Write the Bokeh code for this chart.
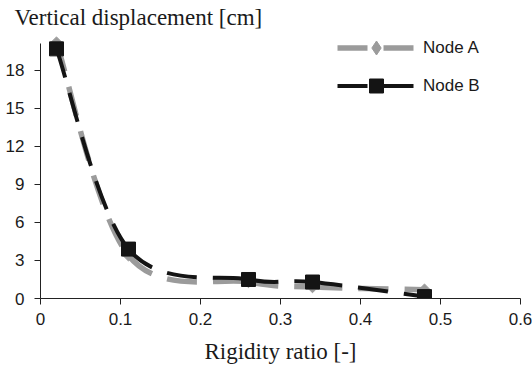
import numpy as np
from bokeh.plotting import figure
from bokeh.models import Range1d, FixedTicker, Legend, LegendItem, ColumnDataSource
from bokeh.embed import file_html
from bokeh.resources import INLINE

# ---- data ----
rigidity_ratio = [0.02, 0.11, 0.26, 0.34, 0.48]
node_a = [20.2, 3.4, 1.3, 0.9, 0.7]
node_b = [19.7, 3.9, 1.5, 1.3, 0.15]
x_ticks = [0, 0.1, 0.2, 0.3, 0.4, 0.5, 0.6]
y_ticks = [0, 3, 6, 9, 12, 15, 18]

GRAY = "#9b9b9b"
BLACK = "#141414"
SANS = "Liberation Sans"
SERIF = "Liberation Serif"


def smooth_segments(xs, ys):
    """Cubic Bezier control points (Catmull-Rom, Excel-like smoothing) from the data points."""
    xs = np.asarray(xs, float)
    ys = np.asarray(ys, float)
    n = len(xs)
    d = dict(x0=[], y0=[], x1=[], y1=[], cx0=[], cy0=[], cx1=[], cy1=[])
    for i in range(n - 1):
        ip = max(i - 1, 0)
        inx = min(i + 2, n - 1)
        d["x0"].append(xs[i]); d["y0"].append(ys[i])
        d["x1"].append(xs[i + 1]); d["y1"].append(ys[i + 1])
        d["cx0"].append(xs[i] + (xs[i + 1] - xs[ip]) / 6)
        d["cy0"].append(ys[i] + (ys[i + 1] - ys[ip]) / 6)
        d["cx1"].append(xs[i + 1] - (xs[inx] - xs[i]) / 6)
        d["cy1"].append(ys[i + 1] - (ys[inx] - ys[i]) / 6)
    return ColumnDataSource(d)


p = figure(width=532, height=368, output_backend="svg", toolbar_location=None,
           x_range=Range1d(0, 0.6), y_range=Range1d(0, 21.15),
           min_border_left=40, min_border_right=12, min_border_top=30, min_border_bottom=70)
p.outline_line_color = None
p.xgrid.visible = False
p.ygrid.visible = False
p.background_fill_color = "white"
p.border_fill_color = "white"

# title acting as y-axis label
p.title.text = "Vertical displacement [cm]"
p.title.text_font = SERIF
p.title.text_font_size = "23px"
p.title.text_font_style = "normal"
p.title.text_color = "#1a1a1a"
p.title.align = "left"
p.title.offset = -26
p.title.standoff = 2

for ax in (p.xaxis[0], p.yaxis[0]):
    ax.axis_line_color = "#222222"
    ax.axis_line_width = 1
    ax.major_tick_line_color = "#222222"
    ax.major_tick_out = 6
    ax.major_tick_in = 0
    ax.minor_tick_line_color = None
    ax.major_label_text_font = SANS
    ax.major_label_text_font_size = "17px"
    ax.major_label_text_color = "#1a1a1a"

p.yaxis.bounds = (0, 20.1)
p.xaxis.ticker = FixedTicker(ticks=x_ticks)
p.yaxis.ticker = FixedTicker(ticks=y_ticks)
p.xaxis.major_label_overrides = {0: "0"}
p.xaxis.major_label_standoff = 8
p.yaxis.major_label_standoff = 10
p.xaxis.axis_label = "Rigidity ratio [-]"
p.xaxis.axis_label_text_font = SERIF
p.xaxis.axis_label_text_font_size = "23px"
p.xaxis.axis_label_text_font_style = "normal"
p.xaxis.axis_label_text_color = "#1a1a1a"
p.xaxis.axis_label_standoff = 11

src_a = smooth_segments(rigidity_ratio, node_a)
src_b = smooth_segments(rigidity_ratio, node_b)

bez_a = p.bezier(x0="x0", y0="y0", x1="x1", y1="y1", cx0="cx0", cy0="cy0", cx1="cx1", cy1="cy1",
                 source=src_a, line_color=GRAY, line_width=5.5, line_dash="30 16")
sc_a = p.scatter(rigidity_ratio, node_a, marker="square", angle=np.pi / 4, size=8,
                 fill_color=GRAY, line_color=GRAY)
# diamond used only for the legend sample (legend markers are drawn unrotated)
sc_a_leg = p.scatter(rigidity_ratio, node_a, marker="diamond", size=12,
                     fill_color=GRAY, line_color=GRAY, visible=False)
bez_b = p.bezier(x0="x0", y0="y0", x1="x1", y1="y1", cx0="cx0", cy0="cy0", cx1="cx1", cy1="cy1",
                 source=src_b, line_color=BLACK, line_width=4, line_dash="30 16")
sc_b = p.scatter(rigidity_ratio, node_b, marker="square", size=14,
                 fill_color=BLACK, line_color=BLACK)

legend = Legend(items=[LegendItem(label="Node A", renderers=[bez_a, sc_a_leg]),
                       LegendItem(label="Node B", renderers=[bez_b, sc_b])],
                location=(297, 195), orientation="vertical")
legend.border_line_color = None
legend.background_fill_alpha = 0
legend.padding = 0
legend.margin = 0
legend.spacing = 3
legend.glyph_width = 78
legend.glyph_height = 35
legend.label_height = 35
legend.label_standoff = 8
legend.label_text_font = SANS
legend.label_text_font_size = "17px"
legend.label_text_color = "#1a1a1a"
p.add_layout(legend)

open("out.html", "w").write(file_html(p, INLINE))
